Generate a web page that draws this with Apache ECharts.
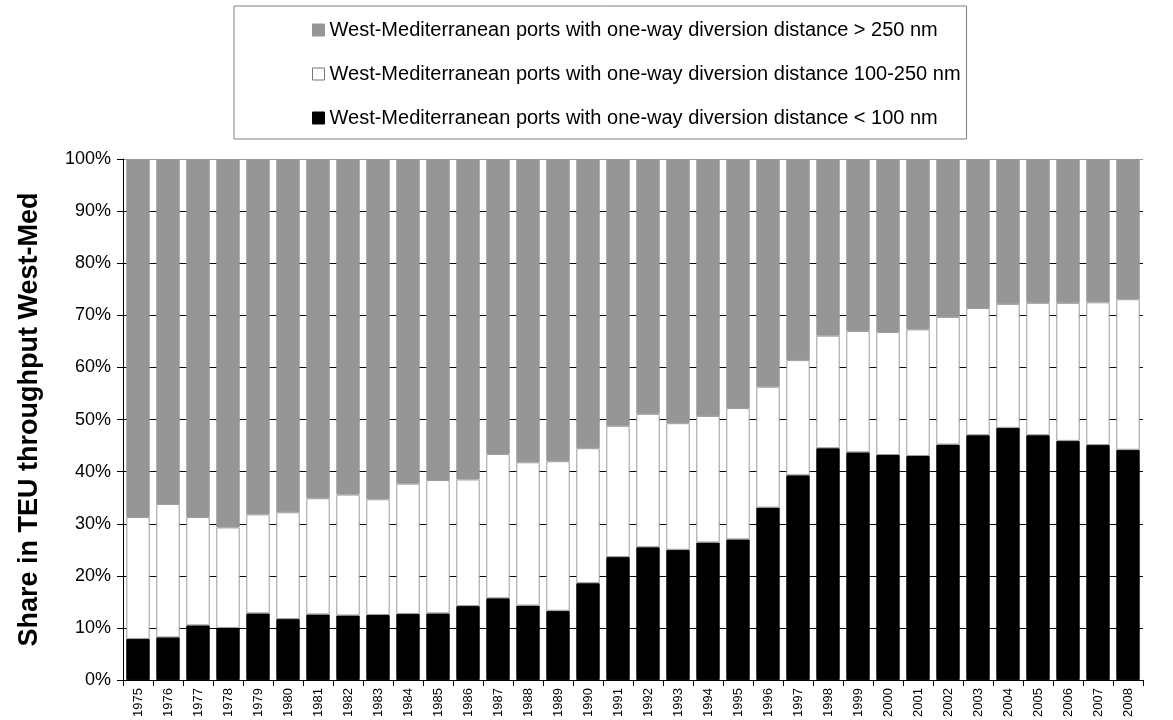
<!DOCTYPE html>
<html>
<head>
<meta charset="utf-8">
<script src="https://cdn.jsdelivr.net/npm/echarts@6/dist/echarts.min.js"></script>
<style>
  html, body { margin: 0; padding: 0; background: #fff; }
  #chart { width: 1173px; height: 720px; }
</style>
</head>
<body>
<div id="chart"></div>
<script>
const years = ['1975','1976','1977','1978','1979','1980','1981','1982','1983','1984','1985','1986','1987','1988','1989','1990','1991','1992','1993','1994','1995','1996','1997','1998','1999','2000','2001','2002','2003','2004','2005','2006','2007','2008'];

// share (%) of ports with one-way diversion distance < 100 nm
const shareBelow100 = [7.9, 8.2, 10.5, 10.0, 12.8, 11.7, 12.6, 12.4, 12.5, 12.7, 12.8, 14.2, 15.7, 14.3, 13.3, 18.6, 23.6, 25.5, 25.0, 26.4, 27.0, 33.1, 39.3, 44.5, 43.7, 43.2, 43.0, 45.2, 47.0, 48.4, 47.0, 45.9, 45.1, 44.2];
// share (%) of ports with one-way diversion distance 100-250 nm
const share100to250 = [23.4, 25.6, 20.8, 19.3, 19.0, 20.5, 22.3, 23.2, 22.2, 25.0, 25.6, 24.3, 27.7, 27.5, 28.7, 25.9, 25.2, 25.6, 24.3, 24.3, 25.2, 23.2, 22.1, 21.6, 23.3, 23.6, 24.3, 24.5, 24.4, 23.8, 25.4, 26.5, 27.4, 28.9];
// share (%) of ports with one-way diversion distance > 250 nm
const shareAbove250 = [68.7, 66.2, 68.7, 70.7, 68.2, 67.8, 65.1, 64.4, 65.3, 62.3, 61.6, 61.5, 56.6, 58.2, 58.0, 55.5, 51.2, 48.9, 50.7, 49.3, 47.8, 43.7, 38.6, 33.9, 33.0, 33.2, 32.7, 30.3, 28.6, 27.8, 27.6, 27.6, 27.5, 26.9];

const yTicks = [0, 10, 20, 30, 40, 50, 60, 70, 80, 90, 100];

const nameAbove = 'West-Mediterranean ports with one-way diversion distance > 250 nm';
const nameMid = 'West-Mediterranean ports with one-way diversion distance 100-250 nm';
const nameBelow = 'West-Mediterranean ports with one-way diversion distance < 100 nm';

const FONT = '"Liberation Sans", Arial, sans-serif';
const chart = echarts.init(document.getElementById('chart'), null, { renderer: 'canvas' });

const splitColors = yTicks.map((t, i) => i === yTicks.length - 1 ? '#9a9a9a' : '#000000');

chart.setOption({
  animation: false,
  backgroundColor: '#ffffff',
  textStyle: { fontFamily: FONT },
  legend: {
    orient: 'vertical',
    left: 234,
    top: 6,
    width: 732,
    padding: [14, 6, 11, 78],
    itemGap: 24,
    itemWidth: 12,
    itemHeight: 12,
    backgroundColor: '#ffffff',
    borderColor: '#808080',
    borderWidth: 1,
    textStyle: { fontSize: 20, color: '#000', fontFamily: FONT, lineHeight: 20 },
    data: [
      { name: nameAbove, icon: 'rect', itemStyle: { color: '#969696', borderColor: '#969696', borderWidth: 1 } },
      { name: nameMid, icon: 'rect', itemStyle: { color: '#ffffff', borderColor: '#777777', borderWidth: 1 } },
      { name: nameBelow, icon: 'rect', itemStyle: { color: '#000000', borderColor: '#000000', borderWidth: 1 } }
    ]
  },
  grid: { left: 123, right: 30, top: 159, bottom: 37, containLabel: false },
  xAxis: {
    type: 'category',
    data: years,
    boundaryGap: true,
    axisLine: { show: true, lineStyle: { color: '#000', width: 1 } },
    axisTick: { show: true, length: 6, lineStyle: { color: '#000' } },
    axisLabel: { rotate: 90, fontSize: 13, color: '#000', margin: 8, fontFamily: FONT, interval: 0 }
  },
  yAxis: {
    type: 'value',
    min: 0,
    max: 100,
    interval: 10,
    name: 'Share in TEU throughput West-Med',
    nameLocation: 'middle',
    nameRotate: 90,
    nameGap: 80,
    nameTextStyle: { fontSize: 27, fontWeight: 'bold', color: '#000', fontFamily: FONT },
    axisLine: { show: true, lineStyle: { color: '#000', width: 1 } },
    axisTick: { show: true, length: 6, lineStyle: { color: '#000' } },
    axisLabel: { fontSize: 18, color: '#000', margin: 12, fontFamily: FONT, formatter: v => v + '%' },
    splitLine: { show: true, lineStyle: { color: splitColors, width: 1 } }
  },
  series: [
    {
      name: nameBelow, type: 'bar', stack: 'share', data: shareBelow100,
      barCategoryGap: '22%',
      itemStyle: { color: '#000000', borderColor: '#000000', borderWidth: 1 }
    },
    {
      name: nameMid, type: 'bar', stack: 'share', data: share100to250,
      barCategoryGap: '22%',
      itemStyle: { color: '#ffffff', borderColor: '#9a9a9a', borderWidth: 1 }
    },
    {
      name: nameAbove, type: 'bar', stack: 'share', data: shareAbove250,
      barCategoryGap: '22%',
      itemStyle: { color: '#969696', borderColor: '#969696', borderWidth: 1 }
    }
  ]
});
</script>
</body>
</html>
